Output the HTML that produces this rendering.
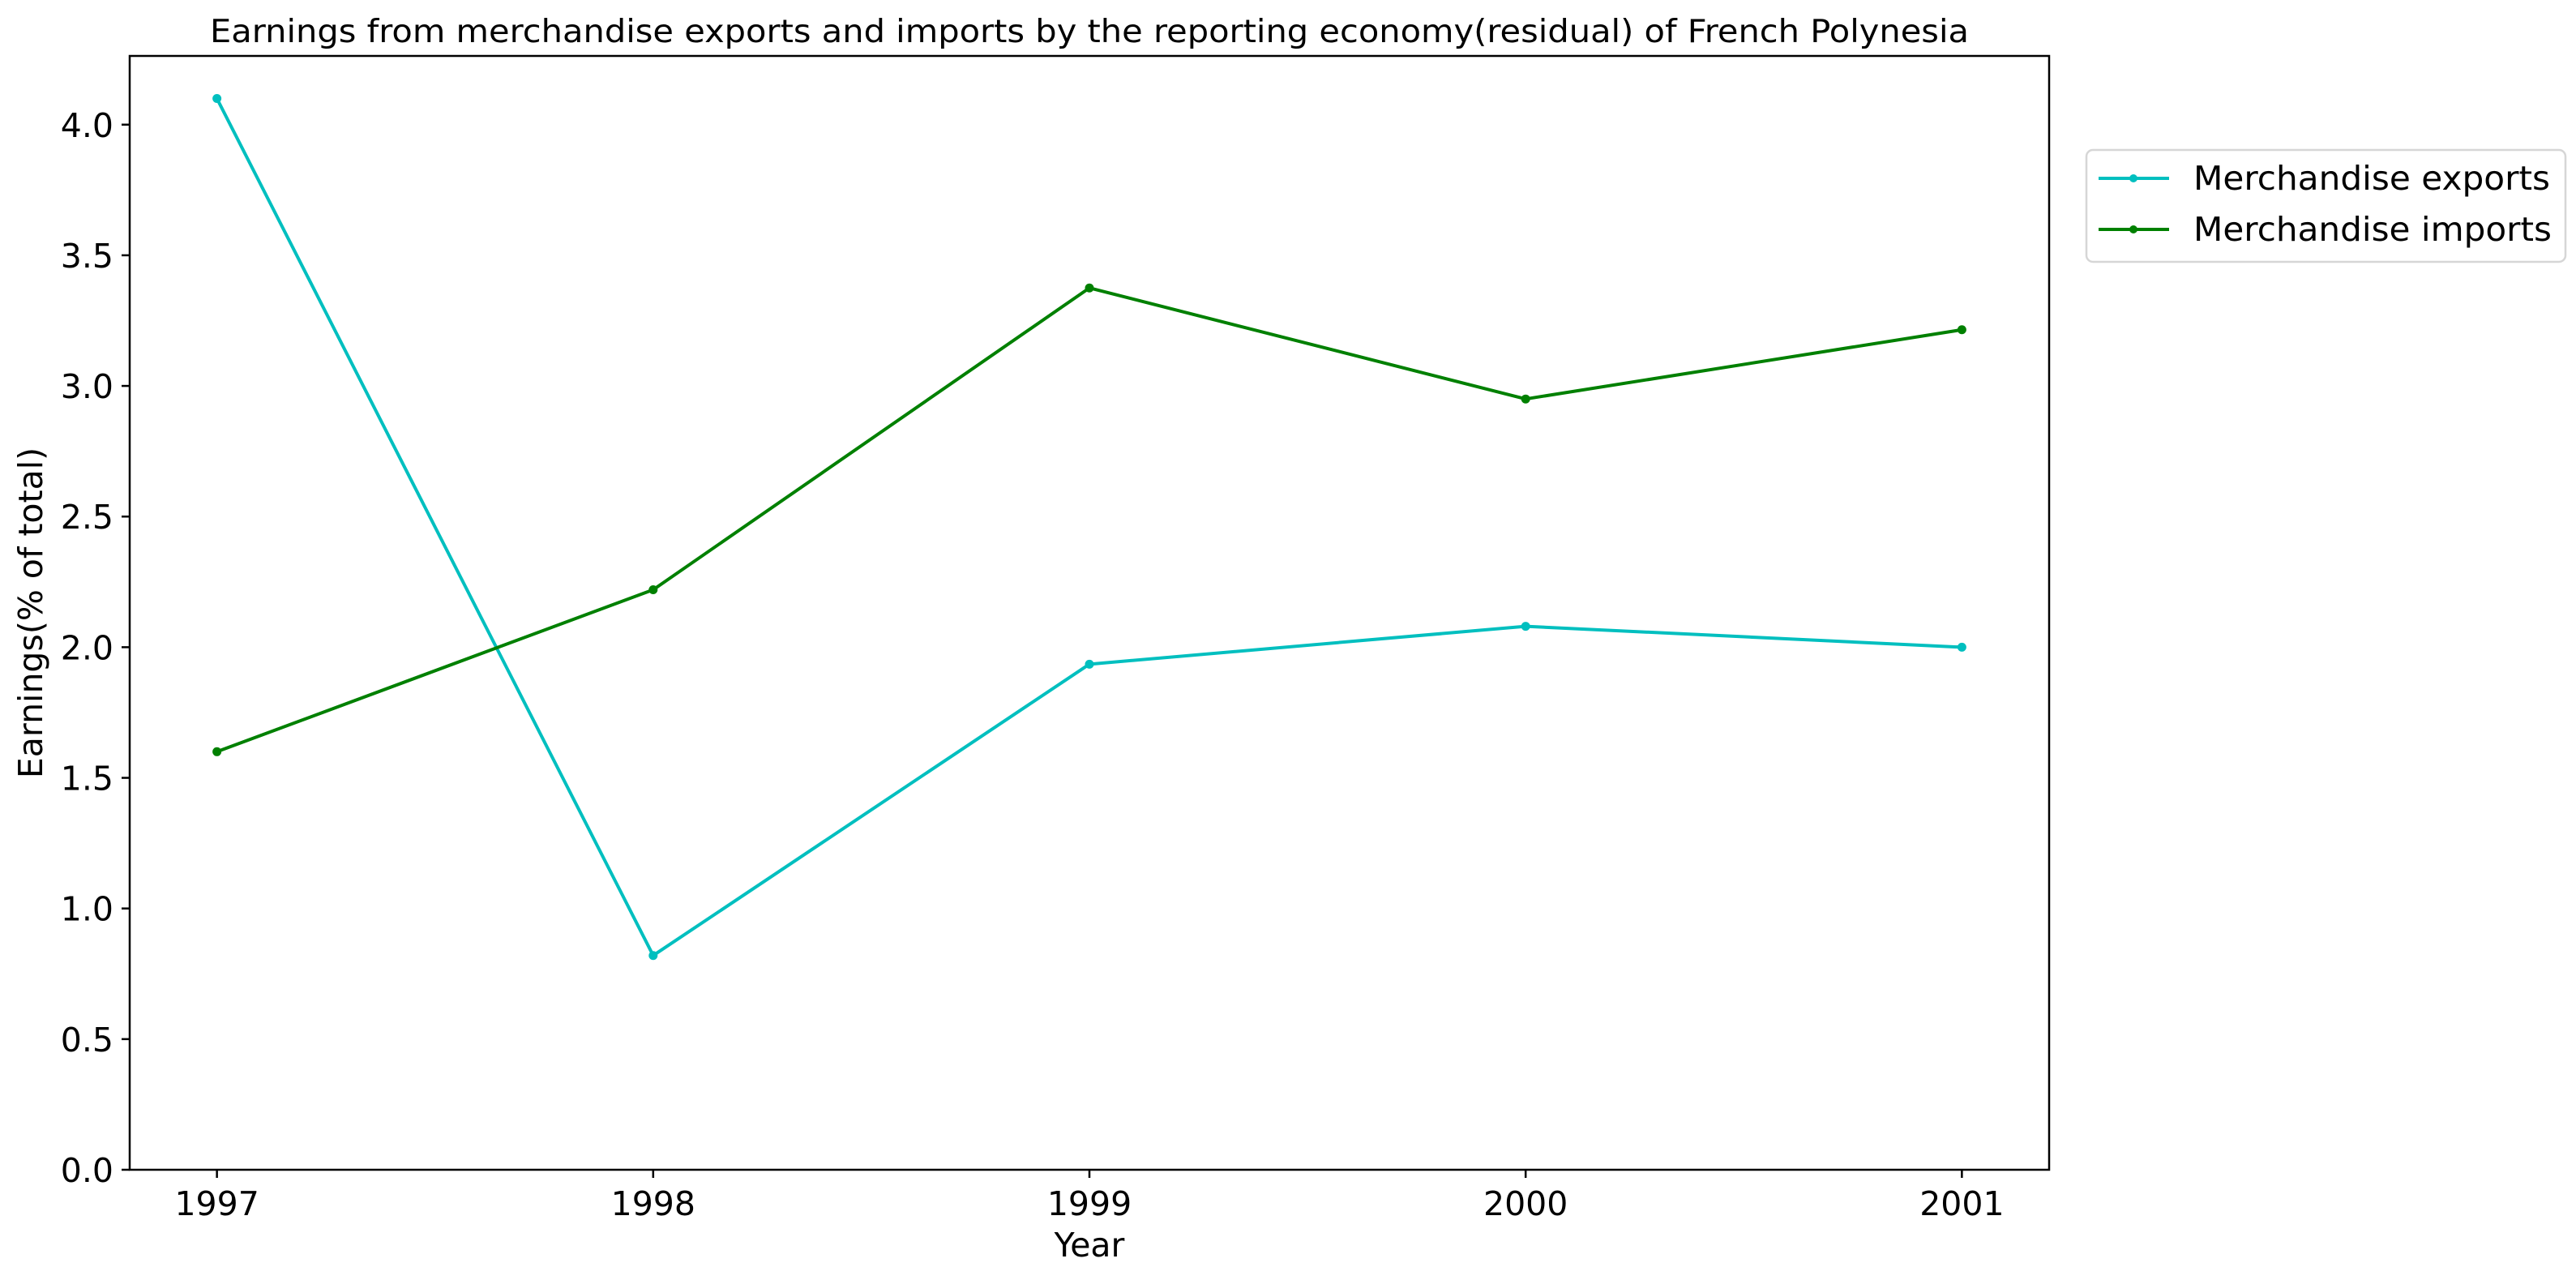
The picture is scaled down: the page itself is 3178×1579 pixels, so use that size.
<!DOCTYPE html>
<html><head><meta charset="utf-8"><style>html,body{margin:0;padding:0;background:#fff}svg{display:block}text{font-family:"DejaVu Sans","Liberation Sans",sans-serif}</style></head>
<body>
<svg id="chart" width="3178" height="1579" viewBox="0 0 3178 1579" xmlns="http://www.w3.org/2000/svg">
<rect width="3178" height="1579" fill="#fff"/>
<text x="1344" y="52" font-size="39" text-anchor="middle" textLength="2170" lengthAdjust="spacingAndGlyphs">Earnings from merchandise exports and imports by the reporting economy(residual) of French Polynesia</text>
<g id="axes"></g>
<g id="series"></g>
<rect x="160" y="69" width="2368" height="1374" fill="none" stroke="#000" stroke-width="2.5"/>
<text x="1344" y="1550" font-size="41" text-anchor="middle">Year</text>
<text transform="translate(52,756) rotate(-90)" font-size="41" text-anchor="middle">Earnings(% of total)</text>
<g>
<rect x="2574" y="185" width="591" height="138" rx="8" fill="#fff" stroke="#d6d6d6" stroke-width="2.5"/>
<line x1="2589" y1="220" x2="2676" y2="220" stroke="#00bfbf" stroke-width="4"/>
<circle cx="2632" cy="220" r="5" fill="#00bfbf"/>
<text x="2706" y="234" font-size="41" textLength="440" lengthAdjust="spacingAndGlyphs">Merchandise exports</text>
<line x1="2589" y1="283" x2="2676" y2="283" stroke="#008000" stroke-width="4"/>
<circle cx="2632" cy="283" r="5" fill="#008000"/>
<text x="2706" y="297" font-size="41" textLength="442" lengthAdjust="spacingAndGlyphs">Merchandise imports</text>
</g>
</svg>
<script>
const years = [1997, 1998, 1999, 2000, 2001];
const exportsVals = [4.10, 0.82, 1.935, 2.08, 2.00];
const importsVals = [1.60, 2.22, 3.375, 2.95, 3.215];
const yTicks = [0, 0.5, 1.0, 1.5, 2.0, 2.5, 3.0, 3.5, 4.0];
const yTickLabels = ["0.0","0.5","1.0","1.5","2.0","2.5","3.0","3.5","4.0"];

const NS = "http://www.w3.org/2000/svg";
const L = 160, R = 2528, T = 69, B = 1443;
const xMin = 1996.8, xMax = 2001.2, yMin = 0, yMax = 4.263;
function xs(v){ return L + (v - xMin) / (xMax - xMin) * (R - L); }
function ys(v){ return B - (v - yMin) / (yMax - yMin) * (B - T); }
function mk(tag, attrs){ const e = document.createElementNS(NS, tag); for (const k in attrs) e.setAttribute(k, attrs[k]); return e; }

const axes = document.getElementById('axes');
yTicks.forEach((v, i) => {
  const t = mk('line', {x1: L - 10, x2: L, y1: ys(v), y2: ys(v), stroke: '#000', 'stroke-width': 2.5});
  
  
  axes.appendChild(t);
  const tx = mk('text', {x: L - 20, y: ys(v) + 15, 'font-size': 41, 'text-anchor': 'end'});
  tx.textContent = yTickLabels[i];
  
  
  axes.appendChild(tx);
});
years.forEach(v => {
  const t = mk('line', {x1: xs(v), x2: xs(v), y1: B, y2: B + 10, stroke: '#000', 'stroke-width': 2.5});
  
  
  axes.appendChild(t);
  const tx = mk('text', {x: xs(v), y: B + 56, 'font-size': 41, 'text-anchor': 'middle'});
  tx.textContent = String(v);
  
  
  axes.appendChild(tx);
});

const series = document.getElementById('series');
function drawSeries(vals, color, name){
  const pts = vals.map((v, i) => xs(years[i]) + ',' + ys(v)).join(' ');
  const pl = mk('polyline', {points: pts, fill: 'none', stroke: color, 'stroke-width': 4, 'stroke-linejoin': 'round'});
  
  
  series.appendChild(pl);
  vals.forEach((v, i) => {
    const c = mk('circle', {cx: xs(years[i]), cy: ys(v), r: 5.5, fill: color});
    
    
    series.appendChild(c);
  });
}
drawSeries(exportsVals, '#00bfbf', 'exports');
drawSeries(importsVals, '#008000', 'imports');
</script>
</body></html>
